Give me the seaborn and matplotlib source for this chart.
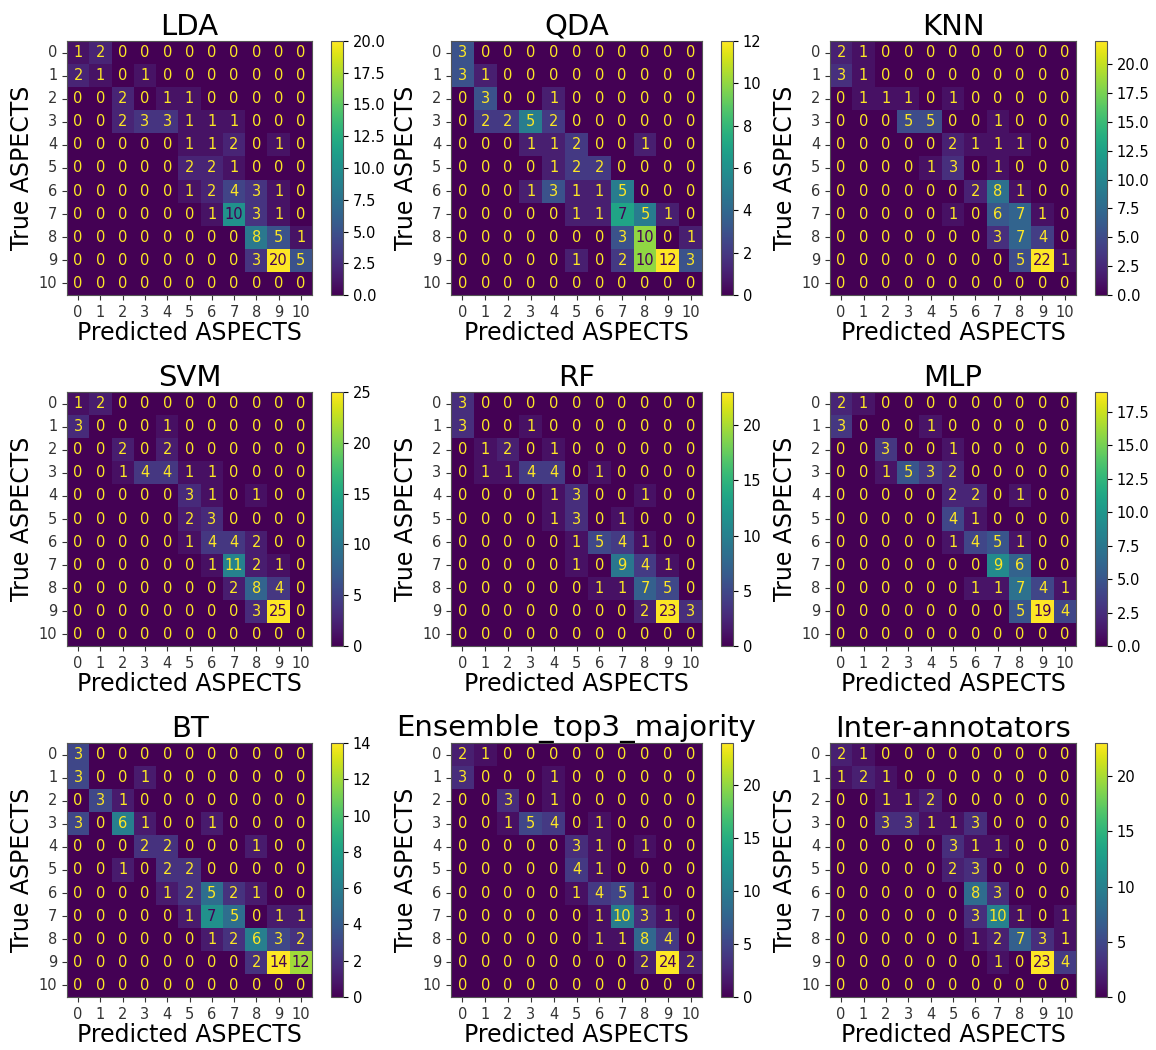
import numpy as np
import matplotlib
matplotlib.use("Agg")
import matplotlib.pyplot as plt
from matplotlib.ticker import MultipleLocator, FormatStrFormatter
import seaborn as sns

labels = list(range(11))

lda = [
    [1, 2, 0, 0, 0, 0, 0, 0, 0, 0, 0],
    [2, 1, 0, 1, 0, 0, 0, 0, 0, 0, 0],
    [0, 0, 2, 0, 1, 1, 0, 0, 0, 0, 0],
    [0, 0, 2, 3, 3, 1, 1, 1, 0, 0, 0],
    [0, 0, 0, 0, 0, 1, 1, 2, 0, 1, 0],
    [0, 0, 0, 0, 0, 2, 2, 1, 0, 0, 0],
    [0, 0, 0, 0, 0, 1, 2, 4, 3, 1, 0],
    [0, 0, 0, 0, 0, 0, 1, 10, 3, 1, 0],
    [0, 0, 0, 0, 0, 0, 0, 0, 8, 5, 1],
    [0, 0, 0, 0, 0, 0, 0, 0, 3, 20, 5],
    [0, 0, 0, 0, 0, 0, 0, 0, 0, 0, 0],
]
qda = [
    [3, 0, 0, 0, 0, 0, 0, 0, 0, 0, 0],
    [3, 1, 0, 0, 0, 0, 0, 0, 0, 0, 0],
    [0, 3, 0, 0, 1, 0, 0, 0, 0, 0, 0],
    [0, 2, 2, 5, 2, 0, 0, 0, 0, 0, 0],
    [0, 0, 0, 1, 1, 2, 0, 0, 1, 0, 0],
    [0, 0, 0, 0, 1, 2, 2, 0, 0, 0, 0],
    [0, 0, 0, 1, 3, 1, 1, 5, 0, 0, 0],
    [0, 0, 0, 0, 0, 1, 1, 7, 5, 1, 0],
    [0, 0, 0, 0, 0, 0, 0, 3, 10, 0, 1],
    [0, 0, 0, 0, 0, 1, 0, 2, 10, 12, 3],
    [0, 0, 0, 0, 0, 0, 0, 0, 0, 0, 0],
]
knn = [
    [2, 1, 0, 0, 0, 0, 0, 0, 0, 0, 0],
    [3, 1, 0, 0, 0, 0, 0, 0, 0, 0, 0],
    [0, 1, 1, 1, 0, 1, 0, 0, 0, 0, 0],
    [0, 0, 0, 5, 5, 0, 0, 1, 0, 0, 0],
    [0, 0, 0, 0, 0, 2, 1, 1, 1, 0, 0],
    [0, 0, 0, 0, 1, 3, 0, 1, 0, 0, 0],
    [0, 0, 0, 0, 0, 0, 2, 8, 1, 0, 0],
    [0, 0, 0, 0, 0, 1, 0, 6, 7, 1, 0],
    [0, 0, 0, 0, 0, 0, 0, 3, 7, 4, 0],
    [0, 0, 0, 0, 0, 0, 0, 0, 5, 22, 1],
    [0, 0, 0, 0, 0, 0, 0, 0, 0, 0, 0],
]
svm = [
    [1, 2, 0, 0, 0, 0, 0, 0, 0, 0, 0],
    [3, 0, 0, 0, 1, 0, 0, 0, 0, 0, 0],
    [0, 0, 2, 0, 2, 0, 0, 0, 0, 0, 0],
    [0, 0, 1, 4, 4, 1, 1, 0, 0, 0, 0],
    [0, 0, 0, 0, 0, 3, 1, 0, 1, 0, 0],
    [0, 0, 0, 0, 0, 2, 3, 0, 0, 0, 0],
    [0, 0, 0, 0, 0, 1, 4, 4, 2, 0, 0],
    [0, 0, 0, 0, 0, 0, 1, 11, 2, 1, 0],
    [0, 0, 0, 0, 0, 0, 0, 2, 8, 4, 0],
    [0, 0, 0, 0, 0, 0, 0, 0, 3, 25, 0],
    [0, 0, 0, 0, 0, 0, 0, 0, 0, 0, 0],
]
rf = [
    [3, 0, 0, 0, 0, 0, 0, 0, 0, 0, 0],
    [3, 0, 0, 1, 0, 0, 0, 0, 0, 0, 0],
    [0, 1, 2, 0, 1, 0, 0, 0, 0, 0, 0],
    [0, 1, 1, 4, 4, 0, 1, 0, 0, 0, 0],
    [0, 0, 0, 0, 1, 3, 0, 0, 1, 0, 0],
    [0, 0, 0, 0, 1, 3, 0, 1, 0, 0, 0],
    [0, 0, 0, 0, 0, 1, 5, 4, 1, 0, 0],
    [0, 0, 0, 0, 0, 1, 0, 9, 4, 1, 0],
    [0, 0, 0, 0, 0, 0, 1, 1, 7, 5, 0],
    [0, 0, 0, 0, 0, 0, 0, 0, 2, 23, 3],
    [0, 0, 0, 0, 0, 0, 0, 0, 0, 0, 0],
]
mlp = [
    [2, 1, 0, 0, 0, 0, 0, 0, 0, 0, 0],
    [3, 0, 0, 0, 1, 0, 0, 0, 0, 0, 0],
    [0, 0, 3, 0, 0, 1, 0, 0, 0, 0, 0],
    [0, 0, 1, 5, 3, 2, 0, 0, 0, 0, 0],
    [0, 0, 0, 0, 0, 2, 2, 0, 1, 0, 0],
    [0, 0, 0, 0, 0, 4, 1, 0, 0, 0, 0],
    [0, 0, 0, 0, 0, 1, 4, 5, 1, 0, 0],
    [0, 0, 0, 0, 0, 0, 0, 9, 6, 0, 0],
    [0, 0, 0, 0, 0, 0, 1, 1, 7, 4, 1],
    [0, 0, 0, 0, 0, 0, 0, 0, 5, 19, 4],
    [0, 0, 0, 0, 0, 0, 0, 0, 0, 0, 0],
]
bt = [
    [3, 0, 0, 0, 0, 0, 0, 0, 0, 0, 0],
    [3, 0, 0, 1, 0, 0, 0, 0, 0, 0, 0],
    [0, 3, 1, 0, 0, 0, 0, 0, 0, 0, 0],
    [3, 0, 6, 1, 0, 0, 1, 0, 0, 0, 0],
    [0, 0, 0, 2, 2, 0, 0, 0, 1, 0, 0],
    [0, 0, 1, 0, 2, 2, 0, 0, 0, 0, 0],
    [0, 0, 0, 0, 1, 2, 5, 2, 1, 0, 0],
    [0, 0, 0, 0, 0, 1, 7, 5, 0, 1, 1],
    [0, 0, 0, 0, 0, 0, 1, 2, 6, 3, 2],
    [0, 0, 0, 0, 0, 0, 0, 0, 2, 14, 12],
    [0, 0, 0, 0, 0, 0, 0, 0, 0, 0, 0],
]
ensemble = [
    [2, 1, 0, 0, 0, 0, 0, 0, 0, 0, 0],
    [3, 0, 0, 0, 1, 0, 0, 0, 0, 0, 0],
    [0, 0, 3, 0, 1, 0, 0, 0, 0, 0, 0],
    [0, 0, 1, 5, 4, 0, 1, 0, 0, 0, 0],
    [0, 0, 0, 0, 0, 3, 1, 0, 1, 0, 0],
    [0, 0, 0, 0, 0, 4, 1, 0, 0, 0, 0],
    [0, 0, 0, 0, 0, 1, 4, 5, 1, 0, 0],
    [0, 0, 0, 0, 0, 0, 1, 10, 3, 1, 0],
    [0, 0, 0, 0, 0, 0, 1, 1, 8, 4, 0],
    [0, 0, 0, 0, 0, 0, 0, 0, 2, 24, 2],
    [0, 0, 0, 0, 0, 0, 0, 0, 0, 0, 0],
]
inter = [
    [2, 1, 0, 0, 0, 0, 0, 0, 0, 0, 0],
    [1, 2, 1, 0, 0, 0, 0, 0, 0, 0, 0],
    [0, 0, 1, 1, 2, 0, 0, 0, 0, 0, 0],
    [0, 0, 3, 3, 1, 1, 3, 0, 0, 0, 0],
    [0, 0, 0, 0, 0, 3, 1, 1, 0, 0, 0],
    [0, 0, 0, 0, 0, 2, 3, 0, 0, 0, 0],
    [0, 0, 0, 0, 0, 0, 8, 3, 0, 0, 0],
    [0, 0, 0, 0, 0, 0, 3, 10, 1, 0, 1],
    [0, 0, 0, 0, 0, 0, 1, 2, 7, 3, 1],
    [0, 0, 0, 0, 0, 0, 0, 1, 0, 23, 4],
    [0, 0, 0, 0, 0, 0, 0, 0, 0, 0, 0],
]

titles = ["LDA", "QDA", "KNN", "SVM", "RF", "MLP", "BT",
          "Ensemble_top3_majority", "Inter-annotators"]
matrices = [lda, qda, knn, svm, rf, mlp, bt, ensemble, inter]
cbar_steps = [2.5, 2, 2.5, 5, 5, 2.5, 2, 5, 5]

W, H = 1156, 1050
fig = plt.figure(figsize=(W / 100, H / 100), dpi=100)

col_left = [67, 451, 830]
col_w = [245, 251, 246]
row_top = [41, 392, 743]
hm_h = 254
cmap = plt.get_cmap("viridis")

def px_rect(x, y, w, h):
    return [x / W, 1 - (y + h) / H, w / W, h / H]

for i, (title, m, step) in enumerate(zip(titles, matrices, cbar_steps)):
    r, c = divmod(i, 3)
    x0, y0, w = col_left[c], row_top[r], col_w[c]
    ax = fig.add_axes(px_rect(x0, y0, w, hm_h))
    cax = fig.add_axes(px_rect(x0 + w + 19, y0, 12, hm_h))
    arr = np.array(m)
    sns.heatmap(arr, ax=ax, cbar_ax=cax, cmap="viridis", annot=True, fmt="d",
                annot_kws={"fontsize": 10.5}, xticklabels=labels,
                yticklabels=labels, square=False)
    thresh = (arr.max() + arr.min()) / 2.0
    for t in ax.texts:
        v = int(t.get_text())
        t.set_color(cmap(1.0) if v < thresh else cmap(0.0))
    for s in ax.spines.values():
        s.set_visible(True)
        s.set_color("#555555")
        s.set_linewidth(0.8)
    ax.tick_params(axis="both", labelsize=10.5, length=3.5, width=0.8,
                   colors="#333333", labelcolor="#333333")
    ax.tick_params(axis="y", rotation=0)
    ax.tick_params(axis="x", rotation=0)
    ax.set_title(title, fontsize=21, pad=4)
    ax.set_xlabel("Predicted ASPECTS", fontsize=17, labelpad=1)
    ax.set_ylabel("True ASPECTS", fontsize=17, labelpad=3)
    cb = ax.collections[0].colorbar
    cb.locator = MultipleLocator(step)
    cb.formatter = FormatStrFormatter("%.1f" if step % 1 else "%d")
    cb.update_ticks()
    cax.tick_params(labelsize=10.5, length=3.5, width=0.8)
    cb.outline.set_visible(True)
    cb.outline.set_edgecolor("#555555")
    cb.outline.set_linewidth(0.8)

fig.savefig("out.png", dpi=100)
